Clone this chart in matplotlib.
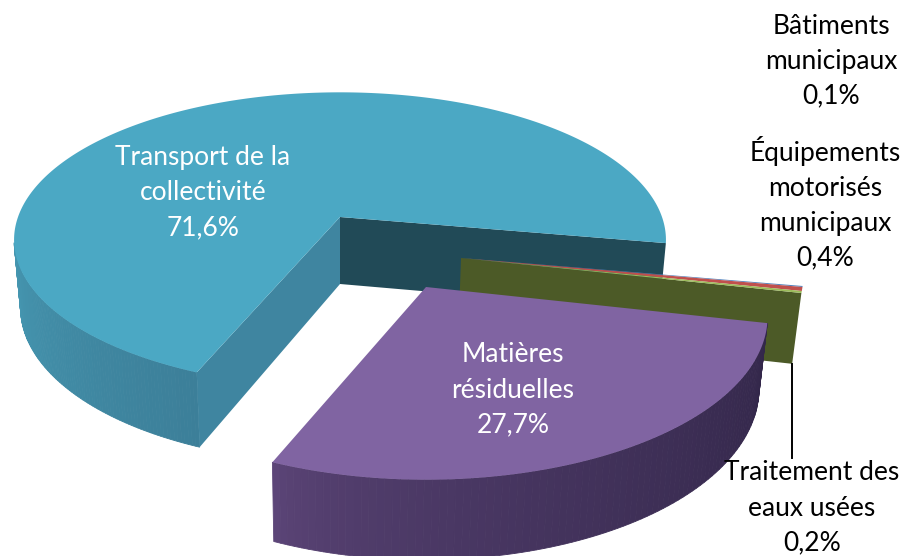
#!/usr/bin/env python3
"""Exploded 3D pie: GES par secteur, drawn as projected polygons on pixel-sized axes."""

import numpy as np
import matplotlib
matplotlib.use("Agg")
import matplotlib.pyplot as plt
from matplotlib.colors import to_rgb

# ------------------------------------------------------------
# data
# ------------------------------------------------------------
categories = ["Transport de la\ncollectivité", "Bâtiments\nmunicipaux",
              "Équipements\nmotorisés\nmunicipaux", "Traitement des\neaux usées",
              "Matières\nrésiduelles"]
shares = [71.6, 0.1, 0.4, 0.2, 27.7]
share_labels = ["71,6%", "0,1%", "0,4%", "0,2%", "27,7%"]

# ------------------------------------------------------------
# layout / style
# ------------------------------------------------------------
START_DEG = 112.4   # clockwise on screen, from +x
VANISH_X = 340.0
BOTTOM_SHRINK = 0.98

# per slice: apex, radii and the two perspective terms
APEX = [(340, 217), (461, 258), (461, 258), (461, 258), (426, 287)]
RADII = [(322, 144), (350, 160), (350, 160), (350, 160), (336, 158)]
KY = [0.155, 0.119, 0.119, 0.119, 0.18]
KX = [0.0, 0.03, 0.03, 0.03, 0.0]

TOP_COLORS = ["#4BA8C4", "#4F81BD", "#C0504D", "#9BBB59", "#8064A2"]
TEXT_POS = [(203, 193), (831, 61), (825, 203), (812, 508), (513, 390)]
TEXT_COLORS = ["white", "black", "black", "black", "white"]


def top_point(i, deg):
    """Project a point of slice i's rim (or apex if deg is None) onto the page."""
    ax_, ay_ = APEX[i]
    if deg is None:
        return np.array([ax_]), np.array([ay_])
    t = np.radians(np.atleast_1d(deg))
    c, s = np.cos(t), np.sin(t)
    den = 1 - KY[i] * s + KX[i] * c
    return ax_ + RADII[i][0] * c / den, ay_ + RADII[i][1] * s / den


def drop(x, y):
    """Matching point on the lower face of the pie."""
    depth = 67 + (y - 217) * 0.05
    return VANISH_X + BOTTOM_SHRINK * (x - VANISH_X), y + depth


def side_strip(ax, i, a0, a1, col0, col1, n=90, gamma=1.0):
    """Outer wall between two angles, shaded from col0 to col1."""
    grid = np.linspace(a0, a1, n + 1)
    c0, c1 = np.array(to_rgb(col0)), np.array(to_rgb(col1))
    for j in range(n):
        x, y = top_point(i, grid[j:j + 2])
        xb, yb = drop(x, y)
        col = c0 + (c1 - c0) * (j / (n - 1)) ** gamma
        ax.fill(np.r_[x, xb[::-1]], np.r_[y, yb[::-1]], color=col, lw=0.6, zorder=i + 1)


def cut_face(ax, i, deg, color):
    x0, y0 = top_point(i, None)
    x1, y1 = top_point(i, deg)
    xb0, yb0 = drop(x0, y0)
    xb1, yb1 = drop(x1, y1)
    ax.fill(np.r_[x0, x1, xb1, xb0], np.r_[y0, y1, yb1, yb0], color=color, lw=0, zorder=i + 1)


def top_face(ax, i, a0, a1):
    x, y = top_point(i, np.linspace(a0, a1, 300))
    x0, y0 = top_point(i, None)
    ax.fill(np.r_[x0, x], np.r_[y0, y], color=TOP_COLORS[i], lw=0, zorder=i + 1.5)


plt.rcParams["font.family"] = ["Lato", "DejaVu Sans"]

fig = plt.figure(figsize=(9.03, 5.56), dpi=100)
ax = fig.add_axes([0, 0, 1, 1])
ax.set_xlim(0, 903)
ax.set_ylim(556, 0)
ax.axis("off")

edges = START_DEG + np.r_[0, np.cumsum(shares)] * 3.6

# transport: outer wall on the left and both cut faces
side_strip(ax, 0, edges[0], 170, "#3C7F99", "#4596B0")
cut_face(ax, 0, edges[0], "#3F85A0")
cut_face(ax, 0, edges[1], "#214A57")
top_face(ax, 0, edges[0], edges[1])

# thin slices, only the last one shows its cut face
cut_face(ax, 3, edges[4], "#4C5A27")
for i in (1, 2, 3):
    top_face(ax, i, edges[i], edges[i + 1])

# residual matter in front
side_strip(ax, 4, edges[5] - 360, edges[4] - 360, "#5C4578", "#33274A", gamma=0.6)
top_face(ax, 4, edges[4] - 360, edges[5] - 360)

# leader line for the small slice
lx, ly = drop(*top_point(3, edges[4]))
ax.plot([lx[0], lx[0]], [ly[0], 458], color="black", lw=1.4, zorder=8)

for name, pct, (tx, ty), col in zip(categories, share_labels, TEXT_POS, TEXT_COLORS):
    ax.text(tx, ty, f"{name}\n{pct}", color=col, ha="center", va="center",
            fontsize=19, linespacing=1.5, zorder=9)

fig.savefig("out.png", dpi=100)
